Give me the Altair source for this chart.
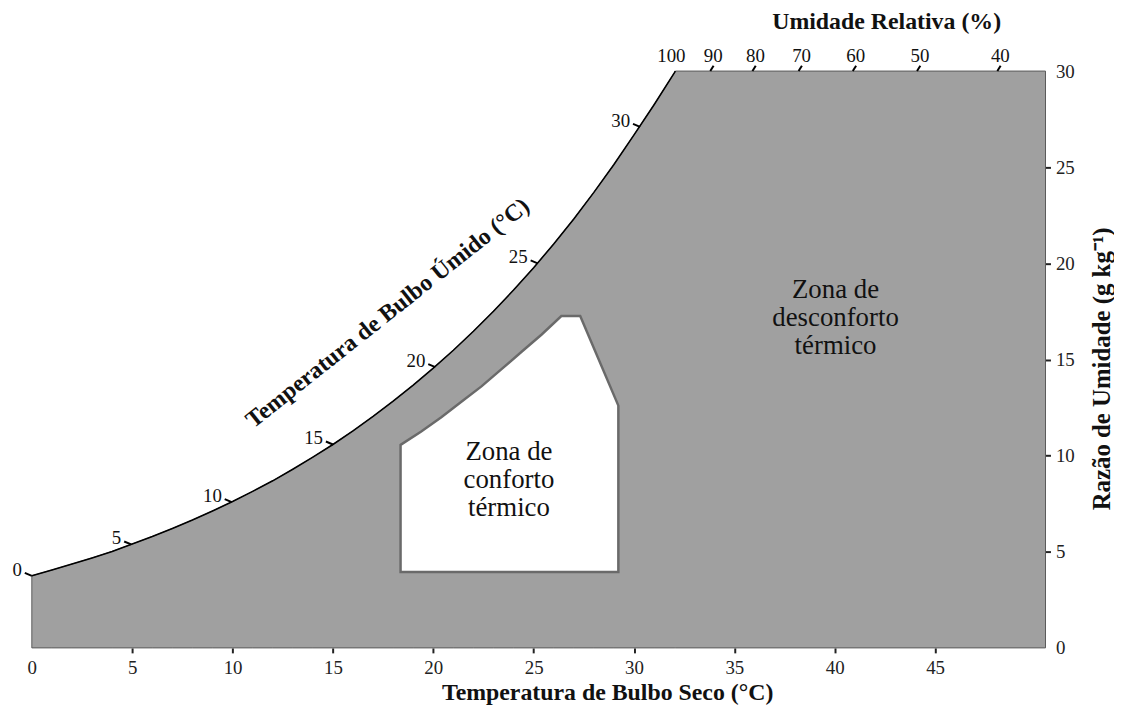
import altair as alt
import pandas as pd

# ---------------- data ----------------
# saturation curve (dry-bulb °C, humidity ratio g/kg)
sat_T = [0, 1, 2, 3, 4, 5, 6, 7, 8, 9, 10, 11, 12, 13, 14, 15, 16, 17, 18, 19,
         20, 21, 22, 23, 24, 25, 26, 27, 28, 29, 30, 31, 32, 32.06]
sat_W = [3.75, 4.05, 4.36, 4.68, 5.02, 5.40, 5.79, 6.21, 6.65, 7.12, 7.61, 8.14,
         8.69, 9.29, 9.92, 10.58, 11.29, 12.04, 12.83, 13.67, 14.55, 15.48, 16.47,
         17.51, 18.61, 19.77, 21.01, 22.31, 23.69, 25.14, 26.68, 28.25, 29.89, 30.0]
x_max = 50.5
w_max = 30

# wet-bulb ticks along the saturation curve
wb_labels = ["0", "5", "10", "15", "20", "25", "30"]
wb_T = [0, 4.95, 9.96, 15.0, 20.1, 25.2, 30.3]
wb_W = [3.75, 5.38, 7.58, 10.58, 14.6, 20.0, 27.1]

# relative humidity ticks on the top border (W = 30)
rh_labels = ["90", "80", "70", "60", "50", "40"]
rh_T = [33.8, 35.9, 38.2, 40.9, 44.1, 48.1]
rh100_T = 32.06

# comfort zone polygon (upper boundary, base)
cz_T = [18.37, 19.4, 20.4, 21.4, 22.4, 23.4, 24.4, 25.4, 26.38, 27.32, 29.22]
cz_W = [10.56, 11.25, 12.0, 12.8, 13.6, 14.5, 15.4, 16.3, 17.26, 17.26, 12.6]
cz_base = 3.95

x_ticks = [0, 5, 10, 15, 20, 25, 30, 35, 40, 45]
y_ticks = [0, 5, 10, 15, 20, 25, 30]

FONT = "Liberation Serif"
GRAY = "#a0a0a0"

xs = alt.Scale(domain=[0, x_max], nice=False, zero=False)
ys = alt.Scale(domain=[0, w_max], nice=False, zero=False)

X_AXIS = alt.Axis(values=x_ticks, title=None, domain=False, grid=False,
                  ticks=True, tickSize=5, tickWidth=2, tickColor="#222",
                  tickOpacity={"condition": {"test": "datum.value == 0", "value": 0},
                               "value": 1},
                  labelFont=FONT, labelFontSize=19, labelColor="#222",
                  labelPadding=6, labelFlush=False)
Y_AXIS = alt.Axis(orient="right", values=y_ticks, title=None, domain=False,
                  grid=False, ticks=True, tickSize=5, tickWidth=2,
                  tickColor="#222",
                  tickOpacity={"condition": {"test": "datum.value == 0 || datum.value == 30",
                                             "value": 0},
                               "value": 1},
                  labelFont=FONT, labelFontSize=19,
                  labelColor="#222", labelPadding=5, labelFlush=False)


def X(field="T"):
    return alt.X(f"{field}:Q", scale=xs, axis=X_AXIS)


def Y(field="W"):
    return alt.Y(f"{field}:Q", scale=ys, axis=Y_AXIS)


area_df = pd.DataFrame({"T": sat_T + [x_max], "W": sat_W + [w_max]})
sat_df = pd.DataFrame({"T": sat_T, "W": sat_W})
cz_df = pd.DataFrame({"T": cz_T, "W": cz_W})
wb_df = pd.DataFrame({"T": wb_T, "W": wb_W, "lab": wb_labels})
wb_df["T2"] = wb_df["T"] - 0.35
wb_df["W2"] = wb_df["W"] + 0.155
rh_df = pd.DataFrame({"T": rh_T, "lab": rh_labels})
rh_df["W"] = w_max
rh_df["T2"] = rh_df["T"] + 0.165
rh_df["W2"] = rh_df["W"] + 0.275
rh100_df = pd.DataFrame({"T": [rh100_T], "W": [w_max], "lab": ["100"]})

gray = alt.Chart(area_df).mark_area(
    fill=GRAY, stroke="#5a5a5a", strokeWidth=1, opacity=1
).encode(x=X(), y=Y(), y2=alt.datum(0))

sat_line = alt.Chart(sat_df).mark_line(color="black", strokeWidth=1.6).encode(
    x=X(), y=Y()
)

comfort = alt.Chart(cz_df).mark_area(
    fill="white", stroke="#6a6a6a", strokeWidth=2.5, opacity=1
).encode(x=X(), y=Y(), y2=alt.datum(cz_base))

wb_ticks = alt.Chart(wb_df).mark_rule(color="black", strokeWidth=2).encode(
    x=X(), x2="T2:Q", y=Y(), y2="W2:Q"
)
wb_text = alt.Chart(wb_df).mark_text(
    font=FONT, fontSize=19, color="#111", align="right", baseline="middle",
    dx=-10, dy=-6
).encode(x=X(), y=Y(), text="lab:N")

rh_ticks = alt.Chart(rh_df).mark_rule(color="black", strokeWidth=2).encode(
    x=X(), x2="T2:Q", y=Y(), y2="W2:Q"
)
rh_text = alt.Chart(rh_df).mark_text(
    font=FONT, fontSize=19, color="#111", align="center", baseline="middle",
    dx=3, dy=-15
).encode(x=X(), y=Y(), text="lab:N")
rh100_text = alt.Chart(rh100_df).mark_text(
    font=FONT, fontSize=19, color="#111", align="center", baseline="middle",
    dx=-4, dy=-15
).encode(x=X(), y=Y(), text="lab:N")

# zone labels (anchored at the first line)
zones_df = pd.DataFrame({
    "T": [40.04, 23.77],
    "W": [18.59, 10.17],
    "lab": ["Zona de\ndesconforto\ntérmico", "Zona de\nconforto\ntérmico"],
})
zones = alt.Chart(zones_df).mark_text(
    font=FONT, fontSize=27, color="#111", align="center", baseline="middle",
    lineBreak="\n", lineHeight=28
).encode(x=X(), y=Y(), text="lab:N")

# titles
wb_title_df = pd.DataFrame({"T": [17.74], "W": [17.4],
                            "lab": ["Temperatura de Bulbo Úmido (°C)"]})
wb_title = alt.Chart(wb_title_df).mark_text(
    font=FONT, fontSize=24, fontWeight="bold", color="#111", align="center",
    baseline="middle", angle=321.6
).encode(x=X(), y=Y(), text="lab:N")

titles_df = pd.DataFrame({"lab": ["Temperatura de Bulbo Seco (°C)"]})
x_title = alt.Chart(titles_df).mark_text(
    font=FONT, fontSize=24, fontWeight="bold", color="#111", align="center",
    baseline="alphabetic"
).encode(x=alt.value(580), y=alt.value(633), text="lab:N")

top_df = pd.DataFrame({"lab": ["Umidade Relativa (%)"]})
top_title = alt.Chart(top_df).mark_text(
    font=FONT, fontSize=24, fontWeight="bold", color="#111", align="center",
    baseline="middle"
).encode(x=alt.value(861), y=alt.value(-49), text="lab:N")

right_df = pd.DataFrame({"lab": ["Razão de Umidade (g kg⁻¹)"]})
right_title = alt.Chart(right_df).mark_text(
    font=FONT, fontSize=25, fontWeight="bold", color="#111", align="center",
    baseline="middle", angle=270
).encode(x=alt.value(1078), y=alt.value(300), text="lab:N")

chart = alt.layer(
    gray, comfort, sat_line, wb_ticks, wb_text, rh_ticks, rh_text, rh100_text,
    zones, wb_title, x_title, top_title, right_title
).properties(
    width=1021, height=581,
    autosize=alt.AutoSizeParams(type="none"),
    padding={"left": 24, "top": 61, "right": 69, "bottom": 58},
).configure_view(stroke=None)

chart.save("out.html", embed_options={"renderer": "svg", "actions": False})
